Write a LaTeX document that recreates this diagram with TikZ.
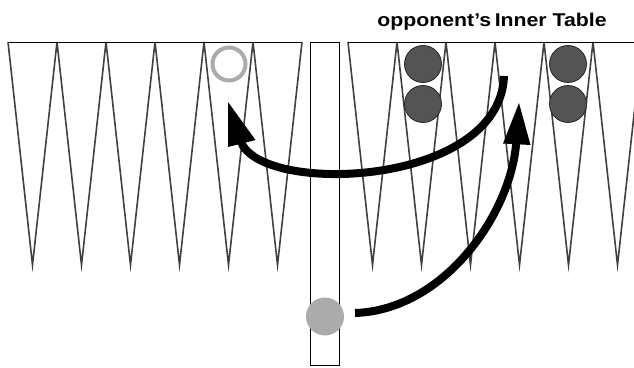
\documentclass[tikz,border=0pt]{standalone}
\usepackage{fontspec}
\setmainfont{Liberation Sans}
\tikzset{
  point/.style={draw=black!75, line width=1.6pt},
  frame/.style={draw=black, line width=1pt},
  darkchecker/.style={circle, draw=black!85, line width=0.8pt, fill=black!67, minimum size=37pt, inner sep=0pt},
  ghost/.style={circle, draw=black!33, line width=4pt, minimum size=33pt, inner sep=0pt},
  barchecker/.style={circle, fill=black!33, minimum size=38pt, inner sep=0pt},
  move/.style={line width=8pt},
  movehead/.style={fill=black},
}
\begin{document}
\begin{tikzpicture}[x=1pt,y=-1pt]
\useasboundingbox (0,0) rectangle (634,367);
\begin{scope}
\clip (0,0) rectangle (634,367);
% left outer board
\foreach \i in {0,...,5}
  \draw[point] ({8+49*\i},42) -- ({32.5+49*\i},265) -- ({57+49*\i},42);
\draw[frame] (8,42) -- (301,42);
% right board (opponent's inner table)
\foreach \i in {0,...,5}
  \draw[point] ({348+49*\i},42) -- ({372.5+49*\i},265) -- ({397+49*\i},42);
\draw[frame] (348,42) -- (640,42);
% bar
\draw[frame] (310,42) rectangle (339,365.5);
\end{scope}
% title
\node[font=\bfseries\fontsize{18.5}{20}\selectfont, inner sep=0pt] (title) at (492,22) {\scalebox{1.15}[1]{opponent’s\,Inner Table}};
% checkers
\node[darkchecker] (d1) at (423,64) {};
\node[darkchecker] (d2) at (423,104) {};
\node[darkchecker] (d3) at (568,64) {};
\node[darkchecker] (d4) at (568,104) {};
\node[ghost] (target) at (229,64) {};
\node[barchecker] (bar) at (325,316.5) {};
% arrow coordinates
\coordinate (s1) at (504,76);
\coordinate (b1) at (240.5,140.5);
\coordinate (t1) at (228,102);
\coordinate (h1a) at (228,147);
\coordinate (h1b) at (255.5,140);
\coordinate (s2) at (355,313);
\coordinate (b2) at (516.3,141);
\coordinate (t2) at (519,103);
\coordinate (h2a) at (503,143.5);
\coordinate (h2b) at (530.5,145);
% moves
\draw[move] (s1) .. controls (500,188) and (258,196) .. (b1);
\fill[movehead] (t1) -- (h1a) -- (h1b) -- cycle;
\draw[move] (s2) .. controls (445,310) and (512,212) .. (b2);
\fill[movehead] (t2) -- (h2a) -- (h2b) -- cycle;
\end{tikzpicture}
\end{document}
